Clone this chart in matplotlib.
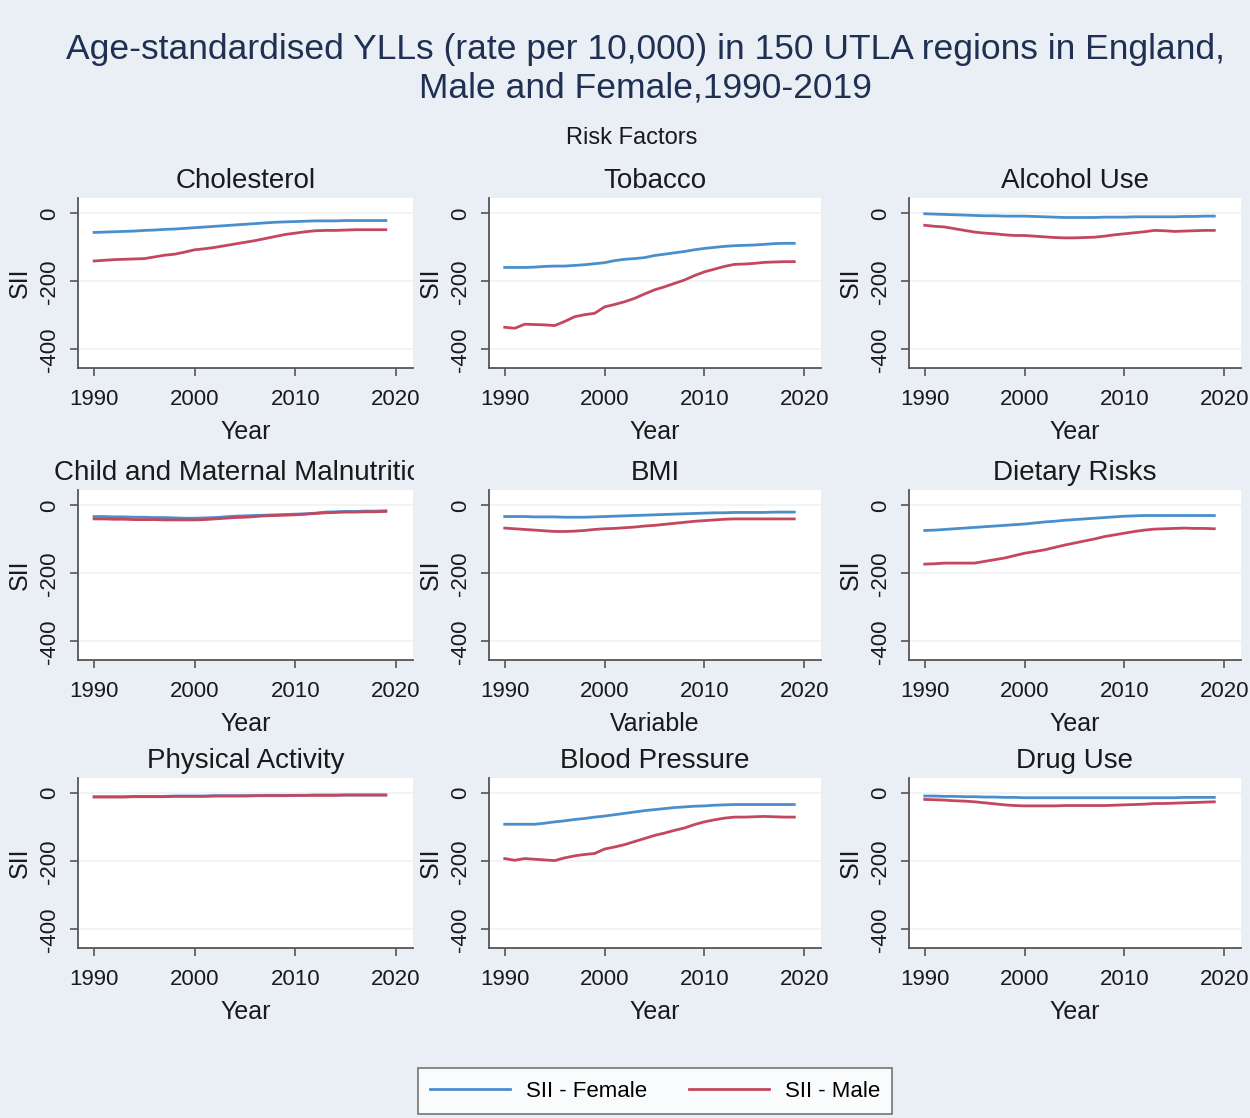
import matplotlib
matplotlib.use("Agg")
import matplotlib.pyplot as plt
from matplotlib.transforms import Bbox, TransformedBbox
from matplotlib.lines import Line2D

years = list(range(1990, 2020))

panel_titles = ["Cholesterol", "Tobacco", "Alcohol Use",
                "Child and Maternal Malnutrition", "BMI", "Dietary Risks",
                "Physical Activity", "Blood Pressure", "Drug Use"]
x_labels = ["Year", "Year", "Year",
            "Year", "Variable", "Year",
            "Year", "Year", "Year"]

cholesterol_female = [-56, -55, -54, -53, -52, -50, -49, -47, -46, -44, -42, -40, -38, -36, -34,
                      -32, -30, -28, -26, -25, -24, -23, -22, -22, -22, -21, -21, -21, -21, -21]
cholesterol_male = [-140, -138, -136, -135, -134, -133, -128, -123, -120, -114, -107, -104, -100, -95, -90,
                    -85, -80, -74, -68, -62, -58, -54, -51, -50, -50, -49, -48, -48, -48, -48]

tobacco_female = [-159, -159, -159, -158, -156, -155, -155, -153, -151, -148, -145, -139, -135, -133, -130,
                  -124, -120, -116, -112, -107, -103, -100, -97, -95, -94, -93, -91, -89, -88, -88]
tobacco_male = [-335, -338, -326, -327, -328, -330, -318, -304, -298, -294, -275, -268, -260, -250, -237,
                -225, -216, -206, -196, -183, -172, -164, -156, -150, -149, -147, -144, -143, -142, -142]

alcohol_female = [-1, -2, -3, -4, -5, -6, -7, -7, -8, -8, -8, -9, -10, -11, -12,
                  -12, -12, -12, -11, -11, -11, -10, -10, -10, -10, -10, -9, -9, -8, -8]
alcohol_male = [-35, -38, -40, -45, -50, -55, -58, -60, -63, -65, -65, -67, -69, -71, -72,
                -72, -71, -70, -67, -63, -60, -57, -54, -50, -51, -53, -52, -51, -50, -50]

child_female = [-33, -33, -34, -34, -35, -35, -36, -36, -37, -38, -38, -37, -36, -34, -32,
                -31, -30, -29, -28, -27, -26, -25, -23, -20, -19, -18, -18, -17, -17, -16]
child_male = [-40, -40, -41, -41, -42, -42, -42, -43, -43, -43, -43, -42, -40, -38, -36,
              -35, -33, -31, -30, -29, -28, -26, -24, -22, -21, -20, -20, -19, -19, -18]

bmi_female = [-33, -33, -33, -34, -34, -34, -35, -35, -35, -34, -33, -32, -31, -30, -29,
              -28, -27, -26, -25, -24, -23, -22, -22, -21, -21, -21, -21, -20, -20, -20]
bmi_male = [-67, -69, -71, -73, -75, -77, -77, -76, -74, -71, -69, -68, -66, -64, -61,
            -59, -56, -53, -50, -47, -45, -43, -41, -40, -40, -40, -40, -40, -40, -40]

dietary_female = [-74, -73, -71, -69, -67, -65, -63, -61, -59, -57, -55, -52, -49, -47, -44,
                  -42, -40, -38, -36, -34, -32, -31, -30, -30, -30, -30, -30, -30, -30, -30]
dietary_male = [-173, -172, -170, -170, -170, -170, -165, -160, -155, -148, -141, -136, -131, -124, -117,
                -111, -105, -99, -92, -87, -82, -77, -73, -70, -69, -68, -67, -68, -68, -69]

physical_female = [-10, -10, -10, -10, -9, -9, -9, -9, -8, -8, -8, -8, -7, -7, -7,
                   -7, -7, -6, -6, -6, -6, -6, -5, -5, -5, -5, -5, -5, -5, -5]
physical_male = [-11, -11, -11, -11, -10, -10, -10, -10, -9, -9, -9, -9, -8, -8, -8,
                 -8, -7, -7, -7, -7, -6, -6, -6, -6, -6, -5, -5, -5, -5, -5]

bp_female = [-91, -91, -91, -91, -88, -84, -81, -77, -74, -70, -67, -63, -59, -55, -51,
             -48, -45, -42, -40, -38, -37, -35, -34, -33, -33, -33, -33, -33, -33, -33]
bp_male = [-192, -197, -192, -194, -196, -198, -190, -184, -180, -177, -164, -158, -151, -142, -133,
           -124, -117, -109, -102, -92, -84, -78, -73, -70, -70, -69, -68, -69, -70, -70]

drug_female = [-8, -8, -9, -9, -10, -10, -11, -11, -12, -12, -13, -13, -13, -13, -13,
               -13, -13, -13, -13, -13, -13, -13, -13, -13, -13, -13, -12, -12, -12, -12]
drug_male = [-18, -19, -20, -22, -23, -25, -28, -31, -34, -36, -37, -37, -37, -37, -36,
             -36, -36, -36, -36, -35, -34, -33, -32, -30, -30, -29, -28, -27, -26, -25]

female_series = [cholesterol_female, tobacco_female, alcohol_female,
                 child_female, bmi_female, dietary_female,
                 physical_female, bp_female, drug_female]
male_series = [cholesterol_male, tobacco_male, alcohol_male,
               child_male, bmi_male, dietary_male,
               physical_male, bp_male, drug_male]

x_ticks = [1990, 2000, 2010, 2020]
y_ticks = [0, -200, -400]

BLUE = "#4a8fcb"
RED = "#c4475f"
BG = "#e9eff5"
FONT = ["Liberation Sans", "DejaVu Sans"]

plt.rcParams['font.family'] = FONT

fig = plt.figure(figsize=(12.5, 11.18), dpi=100, facecolor=BG)

lefts = [0.0624, 0.391, 0.727]
widths = [0.268, 0.266, 0.266]
bottoms = [0.6708, 0.4097, 0.1521]
height = 0.152

for i in range(9):
    r, c = divmod(i, 3)
    ax = fig.add_axes([lefts[c], bottoms[r], widths[c], height])
    ax.set_facecolor("white")
    ax.plot(years, female_series[i], color=BLUE, lw=2.0, zorder=3)
    ax.plot(years, male_series[i], color=RED, lw=2.0, zorder=3)
    ax.set_xlim(1988.4, 2021.7)
    ax.set_ylim(-455, 45)
    ax.set_xticks(x_ticks)
    ax.set_yticks(y_ticks)
    ax.set_yticklabels([str(v) for v in y_ticks], rotation=90, va="center")
    ax.grid(axis="y", color="#eef2f6", lw=1.2, zorder=0)
    for s in ["top", "right"]:
        ax.spines[s].set_visible(False)
    for s in ["left", "bottom"]:
        ax.spines[s].set_color("#555555")
        ax.spines[s].set_linewidth(1.3)
    ax.tick_params(axis="x", length=6, width=1.2, color="#555555",
                   labelsize=16, labelcolor="#1a1a1a", pad=9)
    ax.tick_params(axis="y", length=6, width=1.2, color="#555555",
                   labelsize=16, labelcolor="#1a1a1a", pad=7)
    ax.set_ylabel("SII", fontsize=18, labelpad=5, color="#1a1a1a")
    ax.set_xlabel(x_labels[i], fontsize=18, labelpad=7, color="#1a1a1a")
    t = ax.set_title(panel_titles[i], fontsize=20, pad=7, color="#1a1a1a")
    if i == 3:
        clip = TransformedBbox(Bbox([[0, 0], [0.331, 1]]), fig.transFigure)
        t.set_clip_box(clip)
        t.set_clip_on(True)

fig.text(0.516, 0.956, "Age-standardised YLLs (rate per 10,000) in 150 UTLA regions in England,",
         ha="center", va="center", fontsize=25.5, color="#1f3052")
fig.text(0.516, 0.921, "Male and Female,1990-2019",
         ha="center", va="center", fontsize=25.5, color="#1f3052")
fig.text(0.505, 0.877, "Risk Factors", ha="center", va="center", fontsize=17, color="#1a1a1a")

handles = [Line2D([0], [0], color=BLUE, lw=2.0), Line2D([0], [0], color=RED, lw=2.0)]
leg = fig.legend(handles, ["SII - Female", "SII - Male"], loc="center",
                 bbox_to_anchor=(0.524, 0.024), ncol=2, frameon=True, fancybox=False,
                 fontsize=16, handlelength=3.6, columnspacing=1.9, handletextpad=0.7,
                 borderpad=0.55, edgecolor="#555555", facecolor="white")
leg.get_frame().set_linewidth(1.2)

fig.savefig("out.png", dpi=100, facecolor=BG)
